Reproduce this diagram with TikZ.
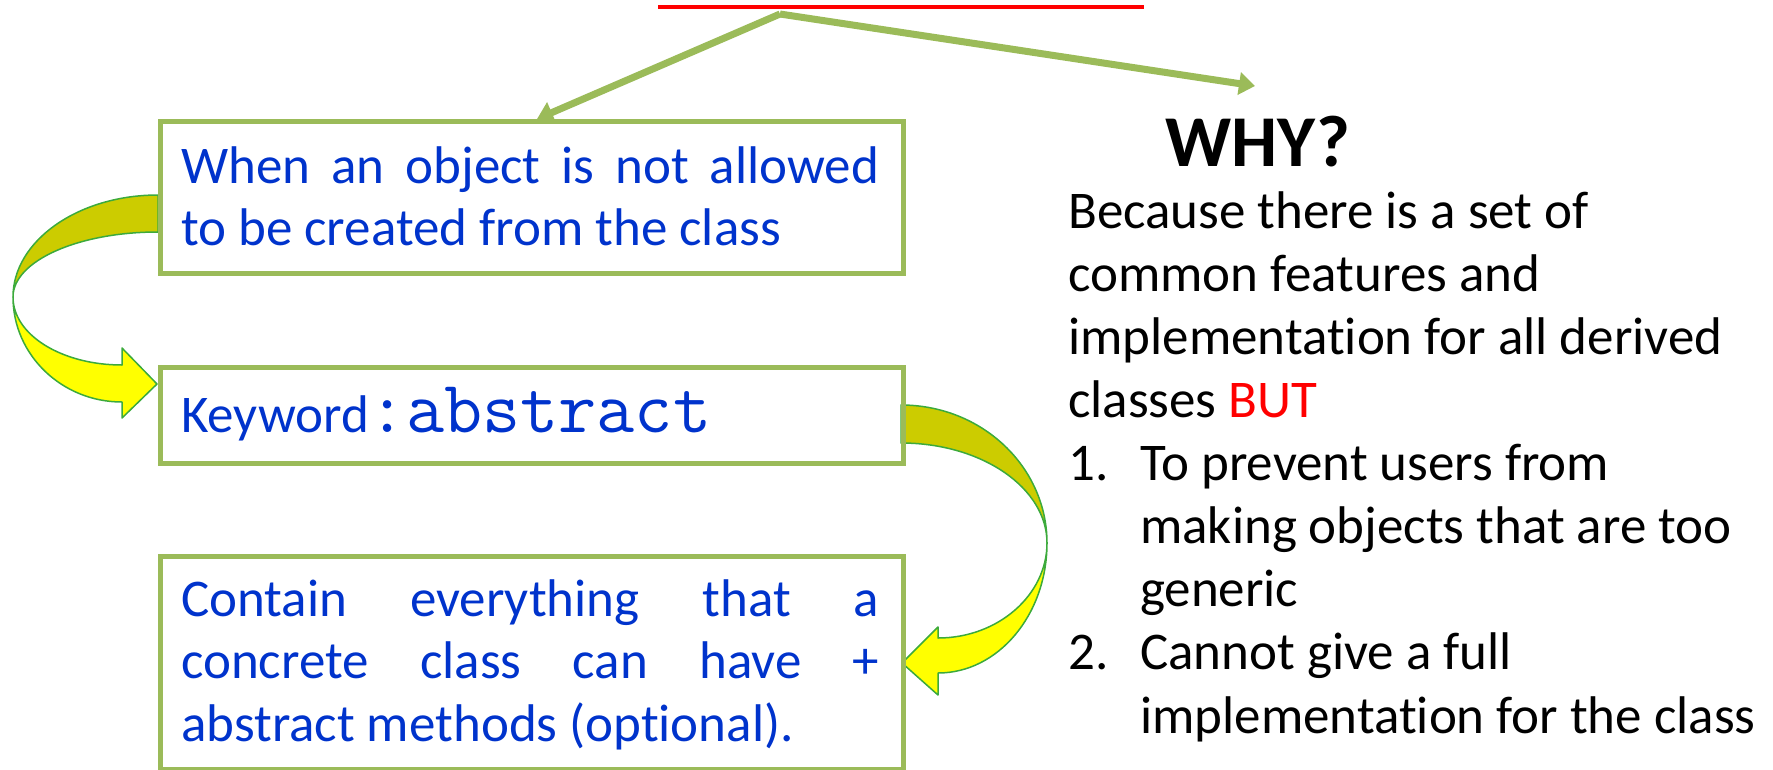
\documentclass[tikz,border=0pt]{standalone}
\usepackage{fontspec}
\setmainfont[Ligatures=NoCommon]{Carlito}
\usetikzlibrary{arrows.meta}
\definecolor{boxgreen}{RGB}{155,187,89}
\definecolor{txtblue}{RGB}{0,51,204}
\definecolor{ribbondark}{RGB}{204,204,0}
\definecolor{ribbonlight}{RGB}{255,255,0}
\definecolor{ribbonedge}{RGB}{60,170,60}
\definecolor{pured}{RGB}{255,0,0}
\begin{document}
\begin{tikzpicture}[x=1pt,y=-1pt,
  box/.style={draw=boxgreen, line width=5pt, inner sep=0pt, anchor=north west, minimum width=743pt},
  btxt/.style={inner sep=0pt, anchor=base west, text=txtblue, font=\fontsize{53}{63}\selectfont},
  wtxt/.style={inner sep=0pt, anchor=base west, text=black, font=\fontsize{53}{63}\selectfont},
  link/.style={draw=boxgreen, line width=7pt, -{Triangle[length=16pt,width=22pt]}},
  rdark/.style={fill=ribbondark, draw=ribbonedge, line width=1.5pt, line join=round},
  rlight/.style={fill=ribbonlight, draw=ribbonedge, line width=1.5pt, line join=round}]
\useasboundingbox (0,0) rectangle (1773,769);

% curved ribbon arrows
\path[rdark] (158,195) .. controls (78,195) and (13,241) .. (13,297) .. controls (13,261) and (78,232) .. (158,232) -- cycle;
\path[rlight] (13,297) .. controls (13,355) and (62,402) .. (122,402) -- (122,418) -- (157,384) -- (122,348) -- (122,365) .. controls (62,365) and (13,335) .. (13,297) -- cycle;
\path[rdark] (901,405) .. controls (982,405) and (1047,467) .. (1047,543) .. controls (1047,488) and (982,443) .. (901,443) -- cycle;
\path[rlight] (1047,543) .. controls (1047,615) and (998,673) .. (938,673) -- (938,695) -- (902,663) -- (938,627) -- (938,638) .. controls (998,638) and (1047,595) .. (1047,543) -- cycle;

% boxes
\node[box, minimum height=152pt] (b1) at (158,119) {};
\node[box, minimum height=96pt] (b2) at (158,365) {};
\node[box, minimum height=213pt] (b3) at (158,554) {};

% box texts
\node[btxt] (t11) at (181,183) {\makebox[698pt][s]{When an object is not allowed}};
\node[btxt] (t12) at (181,245) {to be created from the class};
\node[btxt] (kw) at (181,432) {Keyword};
\node[btxt, font=\ttfamily\fontsize{74}{76}\selectfont] (kwab) at (368,432) {:abstract};
\node[btxt] (t31) at (181,616) {\makebox[698pt][s]{Contain everything that a}};
\node[btxt] (t32) at (181,678) {\makebox[698pt][s]{concrete class can have +}};
\node[btxt] (t33) at (181,741) {abstract methods (optional).};

% right column
\node[wtxt, font=\bfseries\fontsize{73}{80}\selectfont] (why) at (1165,166) {WHY?};
\node[wtxt] (r1) at (1068,228) {Because there is a set of};
\node[wtxt] (r2) at (1068,291) {common features and};
\node[wtxt] (r3) at (1068,354) {implementation for all derived};
\node[wtxt] (r4) at (1068,417) {classes \textcolor{pured}{BUT}};
\node[wtxt] (n1) at (1068,480) {1.};
\node[wtxt] (r5) at (1140,480) {To prevent users from};
\node[wtxt] (r6) at (1140,543) {making objects that are too};
\node[wtxt] (r7) at (1140,606) {generic};
\node[wtxt] (n2) at (1068,669) {2.};
\node[wtxt] (r8) at (1140,669) {Cannot give a full};
\node[wtxt] (r9) at (1140,733) {implementation for the class};

% red underline and green connectors
\coordinate (ul) at (658,7);
\coordinate (ur) at (1144,7);
\draw[draw=pured, line width=4pt] (ul) -- (ur);
\coordinate (src) at (780,14);
\coordinate (tleft) at (537,119);
\coordinate (tright) at (1255,86);
\draw[link] (src) -- (tleft);
\draw[link] (src) -- (tright);
\end{tikzpicture}
\end{document}
